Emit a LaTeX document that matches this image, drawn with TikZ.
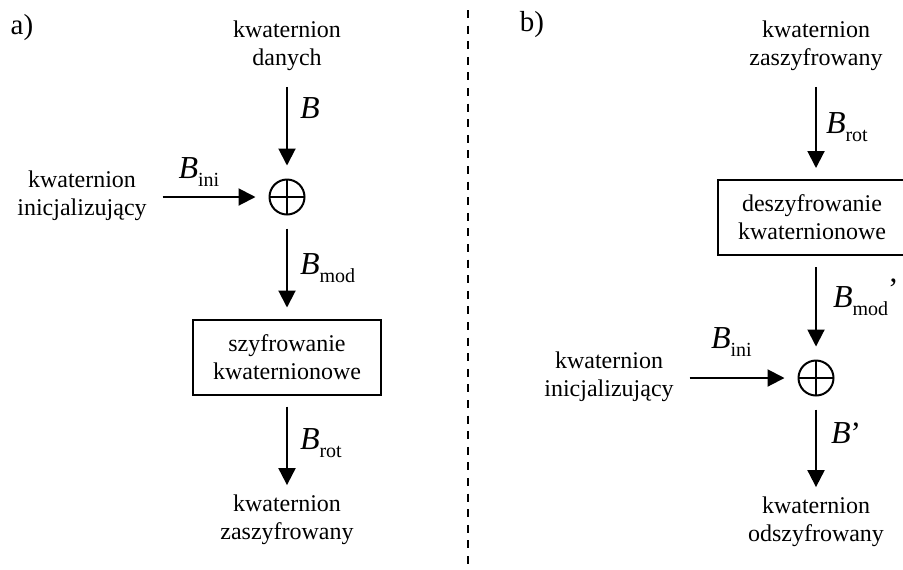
\documentclass[tikz,border=0pt]{standalone}
\usepackage{fontspec}
\setmainfont{Liberation Serif}
\usetikzlibrary{positioning,arrows.meta}
\newcommand{\Bsym}[1]{{\fontsize{16}{16}\selectfont\itshape B}\raisebox{-4pt}{\fontsize{10}{10}\selectfont #1}}
\newcommand{\apos}[1][0pt]{\raisebox{#1}{\fontsize{15.5}{15.5}\selectfont ’}}

\begin{document}
\begin{tikzpicture}[x=.5pt,y=-.5pt,
  txt/.style={align=center,inner sep=0pt,outer sep=8pt,font=\fontsize{12}{14}\selectfont},
  box/.style={draw,line width=1pt,minimum width=94pt,minimum height=37.5pt,align=center,inner sep=0pt,outer sep=6pt,font=\fontsize{12}{14}\selectfont},
  xor/.style={circle,draw,line width=1pt,minimum size=17.5pt,inner sep=0pt,outer sep=7pt,
    path picture={\draw[line width=1pt] (path picture bounding box.north)--(path picture bounding box.south)
      (path picture bounding box.west)--(path picture bounding box.east);}},
  arr/.style={-{Triangle[width=8.5pt,length=8.5pt]},line width=1pt},
  lab/.style={anchor=west,inner sep=0pt,xshift=6pt},
  tag/.style={inner sep=0pt,font=\fontsize{14.5}{14.5}\selectfont}]
\useasboundingbox (0,0) rectangle (903,569);
\clip (0,0) rectangle (903,569);

% a) szyfrowanie
\node[tag] (pa) at (22,28) {a)};
\node[txt] (dane) at (287,46) {kwaternion\\danych};
\node[xor] (sum1) at (287,197) {};
\node[txt] (ini1) at (82,196) {kwaternion\\inicjalizujący};
\node[box] (szyfr) at (287,357) {szyfrowanie\\kwaternionowe};
\node[txt,outer sep=5pt] (zasz1) at (287,520) {kwaternion\\zaszyfrowany};
\draw[arr] (dane)--node[lab,pos=.32]{\Bsym{}}(sum1);
\draw[arr] (ini1.east|-sum1)--node[above=5pt,inner sep=0pt,pos=.39]{\Bsym{ini}}(sum1);
\draw[arr] (sum1)--node[lab,pos=.5]{\Bsym{mod}}(szyfr);
\draw[arr] (szyfr)--node[lab,pos=.46]{\Bsym{rot}}(zasz1);

% separator
\draw[line width=1pt,dash pattern=on 4pt off 3.8pt] (468,10)--(468,569);

% b) deszyfrowanie
\node[tag] (pb) at (532,25) {b)};
\node[txt] (zasz2) at (816,46) {kwaternion\\zaszyfrowany};
\node[box] (deszyfr) at (812,217.5) {deszyfrowanie\\kwaternionowe};
\node[xor] (sum2) at (816,378) {};
\node[txt] (ini2) at (609,377) {kwaternion\\inicjalizujący};
\node[txt,outer sep=5pt] (odsz) at (816,522) {kwaternion\\odszyfrowany};
\draw[arr] (zasz2)--node[lab,pos=.5,xshift=-1.5pt]{\Bsym{rot}}(deszyfr.north-|zasz2);
\draw[arr] (deszyfr.south-|sum2)--node[lab,pos=.38,xshift=2pt]{\Bsym{mod}\apos[4pt]}(sum2);
\draw[arr] (ini2.east|-sum2)--node[above=10.5pt,inner sep=0pt,pos=.44]{\Bsym{ini}}(sum2);
\draw[arr] (sum2)--node[lab,pos=.35,xshift=1pt]{\Bsym{}\apos}(odsz);
\end{tikzpicture}
\end{document}
